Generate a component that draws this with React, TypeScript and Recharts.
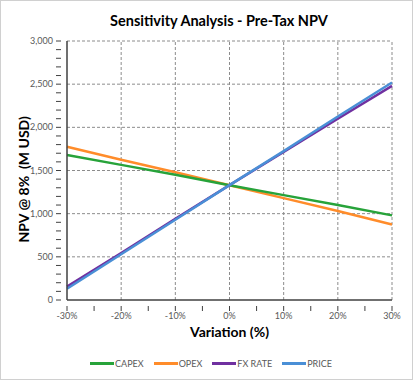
import React from "react";
import { LineChart, Line, XAxis, YAxis, ReferenceLine } from "recharts";

const variations = [-30, -20, -10, 0, 10, 20, 30];
const capex = [1680, 1565, 1450, 1330, 1215, 1100, 980];
const opex = [1775, 1625, 1480, 1330, 1180, 1030, 875];
const fxRate = [155, 545, 940, 1330, 1715, 2100, 2480];
const price = [130, 530, 930, 1330, 1725, 2125, 2520];

const xMajor = [-30, -20, -10, 0, 10, 20, 30];
const xMinor = [-30, -25, -20, -15, -10, -5, 0, 5, 10, 15, 20, 25, 30];
const yMajor = [0, 500, 1000, 1500, 2000, 2500, 3000];
const yMinor = Array.from({ length: 31 }, (_, i) => i * 100);

const seriesNames = ["CAPEX", "OPEX", "FX RATE", "PRICE"];
const seriesColors = ["#27a33a", "#ff8c2a", "#7030a0", "#4a8fd6"];

const data = variations.map((v, i) => ({
  v,
  CAPEX: capex[i],
  OPEX: opex[i],
  "FX RATE": fxRate[i],
  PRICE: price[i],
}));

const FONT = "Lato, 'Open Sans', sans-serif";

const XTick = (props: any) => {
  const { x, y, payload } = props;
  const major = payload.value % 10 === 0;
  return (
    <g>
      <line x1={x} x2={x} y1={y - 2} y2={y + 3} stroke="#404040" strokeWidth={1} />
      {major && (
        <text x={x} y={y + 11} textAnchor="middle" fontSize={9} fill="#595959" fontFamily={FONT}>
          {`${payload.value}%`}
        </text>
      )}
    </g>
  );
};

const YTick = (props: any) => {
  const { x, y, payload } = props;
  const major = payload.value % 500 === 0;
  return (
    <g>
      <line x1={x - 3} x2={x + 2} y1={y} y2={y} stroke="#404040" strokeWidth={1} />
      {major && (
        <text x={x - 6} y={y + 3} textAnchor="end" fontSize={9} fill="#595959" fontFamily={FONT}>
          {payload.value.toLocaleString("en-US")}
        </text>
      )}
    </g>
  );
};

export default function App() {
  return (
    <div
      style={{
        position: "absolute",
        left: 0,
        top: 0,
        width: 411,
        height: 378,
        border: "1px solid #d0d0d0",
        background: "#fff",
        fontFamily: FONT,
      }}
    >
      <div
        style={{
          position: "absolute",
          left: 0,
          width: 436,
          top: 11,
          textAlign: "center",
          fontSize: 14.5,
          fontWeight: 700,
          color: "#000",
        }}
      >
        Sensitivity Analysis - Pre-Tax NPV
      </div>
      <div style={{ position: "absolute", left: -1, top: -1 }}>
        <LineChart
          width={413}
          height={380}
          data={data}
          margin={{ top: 41, right: 21, bottom: 50, left: 0 }}
        >
          <XAxis
            dataKey="v"
            type="number"
            domain={[-30, 30]}
            ticks={xMinor}
            interval={0}
            tick={<XTick />}
            tickLine={false}
            axisLine={{ stroke: "#404040", strokeWidth: 1.5 }}
            height={30}
            label={{
              value: "Variation (%)",
              position: "insideBottom",
              offset: -7,
              style: { fontSize: 14, fontWeight: 700, fill: "#000", fontFamily: FONT },
            }}
          />
          <YAxis
            type="number"
            domain={[0, 3000]}
            ticks={yMinor}
            interval={0}
            tick={<YTick />}
            tickLine={false}
            axisLine={{ stroke: "#404040", strokeWidth: 1.5 }}
            width={67}
            label={{
              value: "NPV @ 8%\u00a0\u00a0(M USD)",
              angle: -90,
              position: "insideLeft",
              offset: 24,
              dy: 72,
              style: { fontSize: 14, fontWeight: 700, fill: "#000", fontFamily: FONT },
            }}
          />
          {yMajor
            .filter((t) => t > 0)
            .map((t) => (
              <ReferenceLine key={`y${t}`} y={t} stroke="#8c8c8c" strokeDasharray="3 2" strokeWidth={1} />
            ))}
          {xMajor
            .filter((t) => t > -30)
            .map((t) => (
              <ReferenceLine key={`x${t}`} x={t} stroke="#8c8c8c" strokeDasharray="3 2" strokeWidth={1} />
            ))}
          <Line dataKey="OPEX" stroke={seriesColors[1]} strokeWidth={2.5} dot={false} isAnimationActive={false} />
          <Line dataKey="CAPEX" stroke={seriesColors[0]} strokeWidth={2.5} dot={false} isAnimationActive={false} />
          <Line dataKey="FX RATE" stroke={seriesColors[2]} strokeWidth={2.5} dot={false} isAnimationActive={false} />
          <Line dataKey="PRICE" stroke={seriesColors[3]} strokeWidth={2.5} dot={false} isAnimationActive={false} />
        </LineChart>
      </div>
      <div
        style={{
          position: "absolute",
          top: 357,
          left: 0,
          width: 420,
          display: "flex",
          justifyContent: "center",
          gap: 10,
          fontSize: 9,
          color: "#595959",
        }}
      >
        {seriesNames.map((n, i) => (
          <div key={n} style={{ display: "flex", alignItems: "center" }}>
            <div style={{ width: 24, height: 3, background: seriesColors[i], marginRight: 1 }} />
            <span>{n}</span>
          </div>
        ))}
      </div>
    </div>
  );
}
